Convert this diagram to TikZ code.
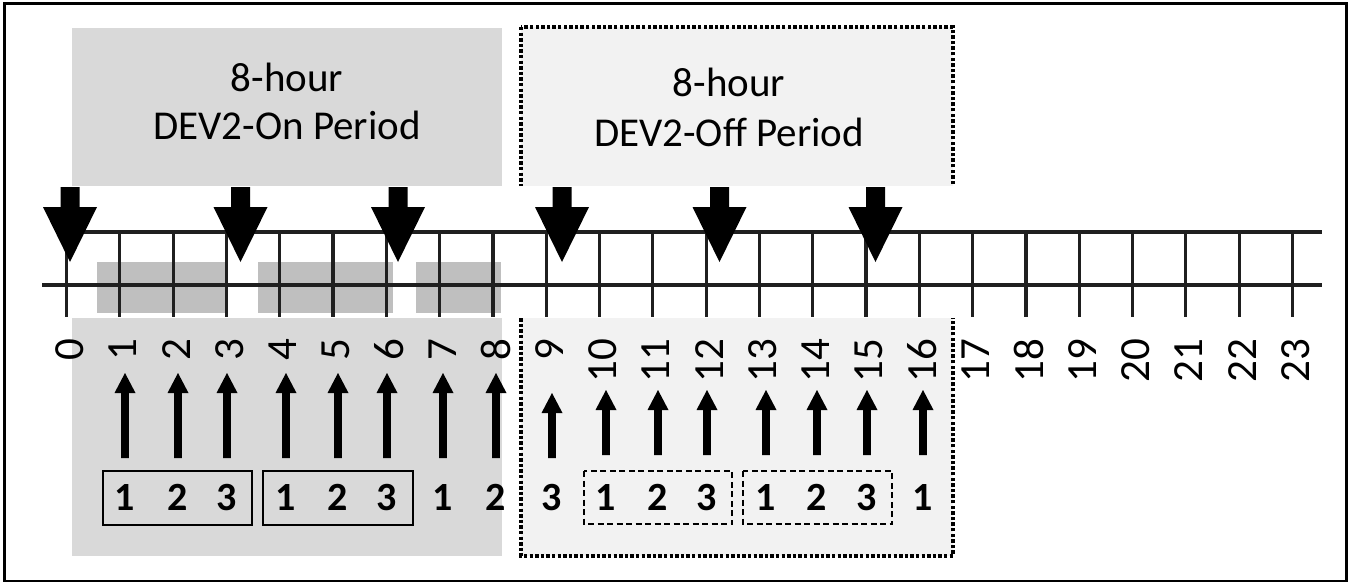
\documentclass[tikz,border=0pt]{standalone}
\usepackage{fontspec}
\setmainfont{Carlito}
\definecolor{ongray}{HTML}{D9D9D9}
\definecolor{offgray}{HTML}{F2F2F2}
\definecolor{slotgray}{HTML}{BFBFBF}
\tikzset{
  frame/.style={draw=black, line width=2.6pt},
  dotborder/.style={draw=black, line width=3.6pt, dash pattern=on 3.4pt off 2.2pt},
  gridline/.style={draw=black!88, line width=3.2pt},
  hourlabel/.style={rotate=90, anchor=east, inner sep=0pt, font=\fontsize{43}{43}\selectfont},
  title/.style={anchor=base, inner sep=0pt, font=\fontsize{41}{48}\selectfont},
  slotnum/.style={anchor=base, inner sep=0pt, font=\fontsize{40}{40}\selectfont\bfseries},
  solidgroup/.style={draw=black, line width=2.2pt},
  dashgroup/.style={draw=black, line width=2pt, dash pattern=on 6pt off 3.5pt},
}
\begin{document}
\begin{tikzpicture}[x=1pt,y=-1pt]
\useasboundingbox (0,0) rectangle (1355,583);
% period backgrounds
\fill[ongray] (72,28) rectangle (502,556);
\fill[offgray] (521,27) rectangle (953,556);
\draw[dotborder] (521,27) rectangle (953,556);
\fill[white] (60,186) rectangle (965,318);
% titles
\node[title] (on1) at (287,92) {8-hour};
\node[title] (on2) at (287,140) {DEV2-On Period};
\node[title] (off1) at (729,97) {8-hour};
\node[title] (off2) at (729,147) {DEV2-Off Period};
% slots on grid
\fill[slotgray] (97,262) rectangle (227,313);
\fill[slotgray] (258,262) rectangle (393,313);
\fill[slotgray] (416,262) rectangle (501,313);
% grid
\draw[gridline] (66,232) -- (1322,232);
\draw[gridline] (42,285) -- (1322,285);
\foreach \i in {0,...,23} {
  \draw[gridline] ({66.5+53.3*\i},232) -- ++(0,85);
  \node[hourlabel] (h\i) at ({69.5+53.3*\i},339) {\i};
}
% big down arrows
\foreach \x in {70,240.5,398,562,719.5,875.5} {
  \fill[black] ({\x-9.5},187) -- ({\x+9.5},187) -- ({\x+9.5},207) -- ({\x+27},207)
     -- (\x,262) -- ({\x-27},207) -- ({\x-9.5},207) -- cycle;
}
% up arrows and slot numbers
\foreach \x/\t/\b/\n [count=\k] in {125/373/458/1,178/373/458/2,227/373/458/3,286/373/458/1,338/373/458/2,387/373/458/3,443/373/458/1,496/373/458/2,552/393/458/3,606/390/455/1,658/390/455/2,707/390/455/3,766/390/455/1,817/390/455/2,867/390/455/3,923/390/455/1} {
  \fill[black] ({\x-3.8},\b) -- ({\x+3.8},\b) -- ({\x+3.8},{\t+20}) -- ({\x+10.5},{\t+20})
     -- (\x,\t) -- ({\x-10.5},{\t+20}) -- ({\x-3.8},{\t+20}) -- cycle;
  \node[slotnum] (s\k) at (\x,510) {\n};
}
% group boxes
\draw[solidgroup] (103,471) rectangle (252,525);
\draw[solidgroup] (263,471) rectangle (413,525);
\draw[dashgroup] (584,471) rectangle (732,524);
\draw[dashgroup] (743,471) rectangle (892,524);
% frame
\draw[frame] (4.5,3.5) rectangle (1346.5,581);
\end{tikzpicture}
\end{document}
